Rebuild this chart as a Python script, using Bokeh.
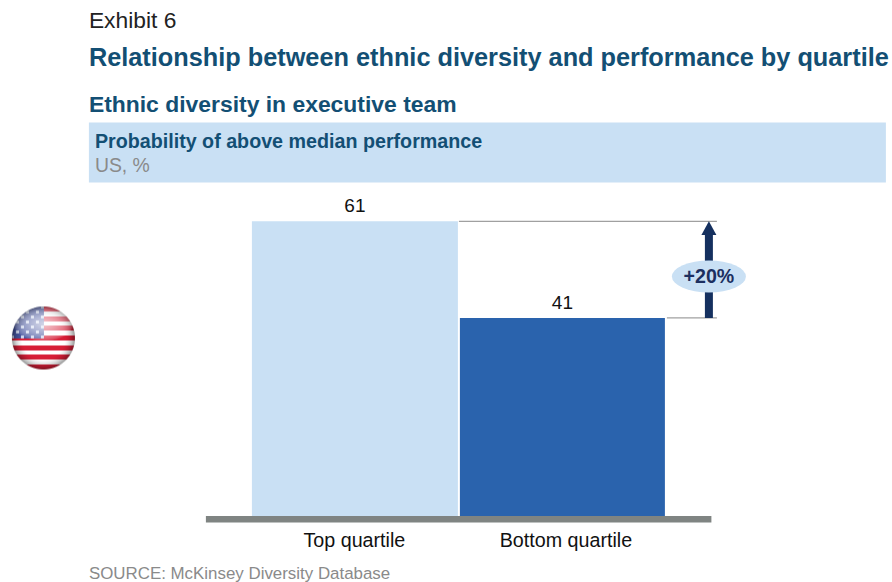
import numpy as np
from bokeh.plotting import figure
from bokeh.models import Range1d
from bokeh.core.properties import value
from bokeh.embed import file_html
from bokeh.resources import INLINE

# Chart data
categories = ["Top quartile", "Bottom quartile"]
values = [61, 41]
bar_colors = ["#c9e0f4", "#2a63ad"]
uplift_label = "+20%"

W, H = 892, 582
BASE_PX = 515.5       # pixel row of the zero line
PX_PER_UNIT = 4.83    # pixels per percentage point
SANS = value("Liberation Sans")

p = figure(width=W, height=H, output_backend="svg", toolbar_location=None,
           x_range=Range1d(0.6, W + 0.6),
           y_range=Range1d((BASE_PX - H) / PX_PER_UNIT, BASE_PX / PX_PER_UNIT),
           min_border=0, outline_line_color=None, background_fill_color="white",
           border_fill_color="white")
p.axis.visible = False
p.grid.visible = False


def y_of(px):
    """Convert a pixel row, measured from the top, to the value scale."""
    return (BASE_PX - px) / PX_PER_UNIT


def label(x, px, text, size, color, bold=False, align="left"):
    p.text([x], [y_of(px)], text=[text], text_font=SANS, text_font_size=size,
           text_color=color, text_baseline="middle", text_align=align,
           text_font_style="bold" if bold else "normal")


# Header block
label(89, 19.5, "Exhibit 6", "22.8px", "#222222")
label(89, 56, "Relationship between ethnic diversity and performance by quartile",
      "25.3px", "#134f74", bold=True)
label(89, 103.5, "Ethnic diversity in executive team", "22.9px", "#134f74", bold=True)
p.quad(left=[89], right=[886], top=[y_of(122)], bottom=[y_of(182)],
       fill_color="#c9e0f4", line_color=None)
label(95, 140.5, "Probability of above median performance", "19.7px", "#134f74", bold=True)
label(95, 164.5, "US, %", "19.4px", "#8a8a8a")

# Bars
lefts = [252, 460]
rights = [458, 665]
label_centers = [354.5, 566]
p.quad(left=lefts, right=rights, bottom=[0, 0], top=values,
       fill_color=bar_colors, line_color=None)
for l, r, v, c, lc in zip(lefts, rights, values, categories, label_centers):
    mid = (l + r) / 2
    p.text([mid], [v], text=[str(v)], y_offset=-9, text_font=SANS, text_font_size="19px",
           text_color="#111111", text_align="center", text_baseline="bottom")
    label(lc, 539.5, c, "19.7px", "#111111", align="center")

# Baseline
p.quad(left=[206], right=[711.5], top=[y_of(515.5)], bottom=[y_of(522)],
       fill_color="#7f8482", line_color=None)

# Difference bracket and arrow
p.segment(x0=[459, 667], x1=[717, 717], y0=values, y1=values,
          line_color="#a0a0a0", line_width=1.2)
p.quad(left=[705], right=[713], bottom=[values[1]], top=[y_of(232)],
       fill_color="#15305f", line_color=None)
p.patch([701.5, 709, 716.5], [y_of(234.5), values[0], y_of(234.5)],
        fill_color="#15305f", line_color=None)
p.ellipse([709], [y_of(276)], width=74, height=32 / PX_PER_UNIT,
          fill_color="#c9e0f4", line_color=None)
label(709, 275.5, uplift_label, "19.6px", "#1c2f60", bold=True, align="center")

# Glossy round flag badge
N = 66
yy, xx = np.mgrid[0:N, 0:N]
cx, cy, r = 32.5, 32.5, 31.5
dx, dy = (xx + .5 - cx) / r, (yy + .5 - cy) / r
rad = np.hypot(dx, dy)
rgb = np.ones((N, N, 3)) * 255.0
stripe = ((dy + 1) * 6.5).astype(int) % 2 == 0
rgb[stripe] = (215, 30, 55)
canton = (dx < 0.02) & (dy < 0.03)
rgb[canton] = (70, 85, 160)
stars = canton & (((xx // 5 + yy // 5) % 2 == 0)) & (xx % 5 < 3) & (yy % 5 < 3)
rgb[stars] = (205, 215, 240)
# darkened rim and a soft highlight over the upper half
shade = np.clip(1.08 - 0.5 * rad ** 5, 0, 1)[..., None]
gloss = (np.clip(1 - np.hypot(dx / .95, (dy + .45) / .55), 0, 1) ** .5 * .75)[..., None]
rgb = rgb * shade
rgb = rgb * (1 - gloss) + 255 * gloss
alpha = np.clip((1 - rad) * r + .5, 0, 1) * 255
img = np.dstack([np.clip(rgb, 0, 255), alpha]).astype(np.uint8)
rgba = np.zeros((N, N), dtype=np.uint32)
rgba.flat = (img[..., 0].astype(np.uint32) | img[..., 1].astype(np.uint32) << 8 |
             img[..., 2].astype(np.uint32) << 16 | img[..., 3].astype(np.uint32) << 24).ravel()
p.image_rgba(image=[rgba[::-1]], x=[11], y=[y_of(371)], dw=[N], dh=[N / PX_PER_UNIT])

# Source note
label(89, 573, "SOURCE: McKinsey Diversity Database", "16.9px", "#8a8a8a")

open("out.html", "w").write(file_html(p, INLINE))
